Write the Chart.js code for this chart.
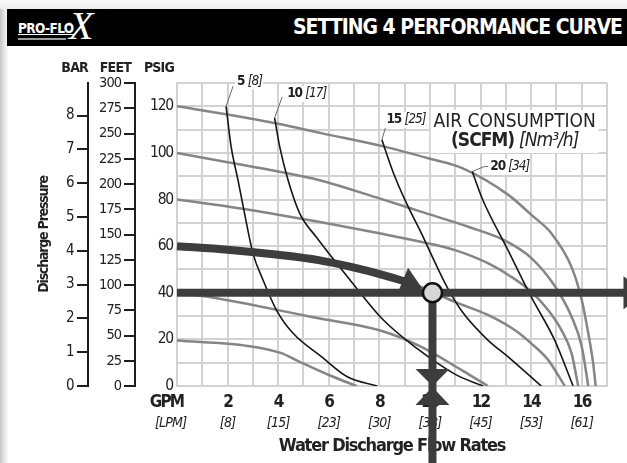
<!DOCTYPE html>
<html><head><meta charset="utf-8">
<script src="https://cdn.jsdelivr.net/npm/chart.js@4.4.1/dist/chart.umd.min.js"></script>
<style>
html,body{margin:0;padding:0;background:#fff;}
#wrap{position:relative;width:627px;height:463px;overflow:hidden;background:#fff;}
#chart{position:absolute;left:0;top:0;}
#shadow{position:absolute;left:0;top:0;width:10px;height:463px;background:linear-gradient(to right,#c4c4c4 0,#e4e4e4 4px,#fff 9px);}
#topband{position:absolute;left:0;top:0;width:627px;height:9px;background:linear-gradient(to bottom,#fafafa,#ececec);}
#header{position:absolute;left:7px;top:9px;width:620px;height:37px;background:#000;overflow:hidden;}
#title{position:absolute;right:5px;top:0;line-height:37px;color:#fff;font-weight:bold;font-size:21px;letter-spacing:-1px;font-family:'DejaVu Sans Condensed','DejaVu Sans',sans-serif;white-space:nowrap;}
#logo{position:absolute;left:11px;top:0;height:37px;width:80px;color:#fff;}
#logo .pf{position:absolute;left:0;top:13px;font-weight:bold;font-size:13.5px;font-family:'DejaVu Sans Condensed',sans-serif;letter-spacing:-0.6px;line-height:12px;border-bottom:1.5px solid #fff;}
#logo .tiny{position:absolute;left:0;top:29px;width:48px;height:2px;background:#9a9a9a;}
#logo .reg{position:absolute;left:49px;top:12px;font-size:5px;font-family:'DejaVu Sans',sans-serif;}
#logo .x{position:absolute;left:51px;top:-7px;font-style:italic;font-size:40px;font-weight:normal;font-family:'Liberation Serif',serif;line-height:48px;}
</style></head>
<body><div id="wrap">
<canvas id="chart" width="627" height="463"></canvas>
<div id="shadow"></div><div id="topband"></div>
<div id="header"><div id="logo"><span class="pf">PRO-FLO</span><span class="tiny"></span><span class="reg">®</span><span class="x">X</span></div><div id="title">SETTING 4 PERFORMANCE CURVE</div></div>
</div>
<script>
// ---------- DATA ----------
const flowTickValues = [2, 4, 6, 8, 10, 12, 14, 16];
const flowTickLpm = ['[8]', '[15]', '[23]', '[30]', '[38]', '[45]', '[53]', '[61]'];
const psiTickValues = [0, 20, 40, 60, 80, 100, 120];

// pump curves at air inlet pressure (flow GPM, discharge PSIG)
const air120Flow = [0, 2, 4, 5.7, 8.2, 10, 11.3, 13.1, 14, 14.8, 15.6, 16, 16.26, 16.45, 16.55];
const air120Psi  = [120, 116.5, 112.5, 108.5, 102.7, 97.5, 93.4, 82, 73.5, 65.5, 51, 37, 22.6, 10, 0];
const air100Flow = [0, 2, 4, 5.6, 8, 9.64, 11.6, 12.95, 14, 14.93, 15.6, 16.0, 16.26];
const air100Psi  = [100, 96, 92, 88.4, 80.5, 74.8, 68, 62.5, 55, 43, 29.7, 17, 0];
const air80Flow  = [0, 2, 4, 5.6, 8, 9.64, 10.96, 12.29, 13.21, 14, 14.67, 15.2, 15.6, 15.86];
const air80Psi   = [80, 77, 73.5, 70.5, 65.5, 61.9, 58.4, 52.7, 46.9, 40.5, 32.6, 24, 14, 0];
const air60Flow  = [0, 2, 4, 5.6, 6.84, 8.16, 9.48, 10.1, 10.96, 12.29, 13.35, 14, 14.67, 15.33];
const air60Psi   = [60, 58.5, 56.3, 54, 51.2, 47.6, 43.3, 40.3, 36.2, 30.5, 24, 18.3, 11.2, 0];
const air40Flow  = [0, 1.4, 2.8, 5.43, 8.07, 9.64, 11.3, 12.29];
const air40Psi   = [40, 38, 35.2, 29.4, 23.7, 16.9, 6.5, 0];
const air20Flow  = [0, 2.8, 4.1, 4.77, 6.1, 7.1];
const air20Psi   = [19.5, 17.2, 14.2, 10.8, 4.3, 0];

// air consumption curves (SCFM)
const scfm5Flow  = [1.94, 2.14, 2.41, 2.67, 3.0, 3.4, 3.93, 4.59, 5.71, 6.73, 7.92];
const scfm5Psi   = [120, 102.7, 88.4, 74.1, 57, 45.5, 32.6, 22.6, 12.6, 4, 0];
const scfm10Flow = [3.86, 4.06, 4.39, 4.85, 5.5, 6.84, 8.16, 9.5, 11.0, 12.1];
const scfm10Psi  = [115, 102.7, 88.4, 74.1, 64, 45.5, 28.3, 16, 5, 0];
const scfm15Flow = [8.1, 8.56, 9.09, 9.64, 10.2, 10.7, 11.3, 12.29, 13.08, 14.4];
const scfm15Psi  = [105.6, 91.3, 78, 66, 53, 42, 31.5, 19.7, 12.6, 0];
const scfm20Flow = [11.67, 12.09, 13.08, 14.0, 14.93, 15.66];
const scfm20Psi  = [92, 79.8, 58.4, 38.3, 19.7, 0];
const scfmNames  = ['5', '10', '15', '20'];
const scfmNm3    = ['[8]', '[17]', '[25]', '[34]'];

// operating point example
const opFlow = 10.1;
const opPsi = 40;
const arrowFlow = [0, 2, 4, 5.6, 6.84, 8.16, 9.0];
const arrowPsi  = [60, 58.5, 56.3, 54, 51.2, 47.6, 44.9];
const horizArrowFlow = [0, 18.6];
const vertArrowPsi = [40, -40];

// unit conversions for secondary axes
const FEET_MAX = 300;
const PSI_PER_BAR = 14.5038;

// ---------- STYLE / LAYOUT ----------
const F = "'DejaVu Sans Condensed','DejaVu Sans',sans-serif";
const TXT = '#222222';
const GRID = '#d2d2d2';
const AXIS = '#1e1e1e';
const BAND = '#3d3d3d';
const labelLayout = [ // leader end offset (dx,dy), text offset (tx,ty) in px
  {dx: 7, dy: -20, tx: 11, ty: -25},
  {dx: 7.5, dy: -21, tx: 12.5, ty: -24},
  {dx: 3.5, dy: -12, tx: 4.5, ty: -20},
  {dx: 12, dy: -5, tx: 18, ty: -5}
];
const scaleSpacing = {x: '-1.8px', x2: '-0.8px', y: '-1.2px', feet: '-1px', bar: '-0.5px'};
const titleSpacing = {x2: '-1.2px', bar: '-1.2px'};

const pts = (xs, ys) => xs.map((x, i) => ({x, y: ys[i]}));
const grayCurve = (xs, ys) => ({data: pts(xs, ys), borderColor: '#858585', borderWidth: 2.5, pointRadius: 0, cubicInterpolationMode: 'monotone', order: 4, xAxisID: 'x', yAxisID: 'y'});
const blackCurve = (xs, ys) => ({data: pts(xs, ys), borderColor: '#161616', borderWidth: 1.6, pointRadius: 0, cubicInterpolationMode: 'monotone', order: 3, xAxisID: 'x', yAxisID: 'y'});

const scfmCurves = [[scfm5Flow, scfm5Psi], [scfm10Flow, scfm10Psi], [scfm15Flow, scfm15Psi], [scfm20Flow, scfm20Psi]];

const datasets = [
  grayCurve(air120Flow, air120Psi),
  grayCurve(air100Flow, air100Psi),
  grayCurve(air80Flow, air80Psi),
  grayCurve(air60Flow, air60Psi),
  grayCurve(air40Flow, air40Psi),
  grayCurve(air20Flow, air20Psi),
  ...scfmCurves.map(c => blackCurve(c[0], c[1])),
  {data: pts(arrowFlow, arrowPsi), borderColor: BAND, borderWidth: 8, pointRadius: 0, cubicInterpolationMode: 'monotone', borderCapStyle: 'butt', order: 2, clip: false, xAxisID: 'x', yAxisID: 'y'},
  {data: pts(horizArrowFlow, [opPsi, opPsi]), borderColor: BAND, borderWidth: 8, pointRadius: 0, order: 2, clip: false, xAxisID: 'x', yAxisID: 'y'},
  {data: pts([opFlow, opFlow], vertArrowPsi), borderColor: BAND, borderWidth: 8, pointRadius: 0, order: 1, clip: false, xAxisID: 'x', yAxisID: 'y'},
  {data: [{x: opFlow, y: opPsi}], showLine: false, pointRadius: 9.5, pointBorderWidth: 2.5, pointBackgroundColor: '#d6d6d6', pointBorderColor: '#111', order: 0, clip: false, xAxisID: 'x', yAxisID: 'y'}
];

function tri(ctx, tip, dir, len, half) {
  const bx = tip.x - dir.x * len, by = tip.y - dir.y * len;
  const nx = -dir.y, ny = dir.x;
  ctx.beginPath();
  ctx.moveTo(tip.x, tip.y);
  ctx.lineTo(bx + nx * half, by + ny * half);
  ctx.lineTo(bx - nx * half, by - ny * half);
  ctx.closePath();
  ctx.fill();
}
function mixed(ctx, parts, x, y) {
  let cx = x;
  for (const p of parts) { ctx.font = p.font; ctx.fillText(p.text, cx, y); cx += ctx.measureText(p.text).width; }
  return cx - x;
}
function mixedWidth(ctx, parts) {
  let w = 0;
  for (const p of parts) { ctx.font = p.font; w += ctx.measureText(p.text).width; }
  return w;
}

const spacingPlugin = {
  id: 'spacing',
  beforeDraw(chart) {
    for (const id in chart.scales) {
      const s = chart.scales[id];
      if (s.__sp) continue;
      s.__sp = true;
      const dl = s.drawLabels, dt = s.drawTitle;
      s.drawLabels = function (a) { const c = this.ctx; const p = c.letterSpacing; c.letterSpacing = scaleSpacing[id] || '0px'; dl.call(this, a); c.letterSpacing = p || '0px'; };
      s.drawTitle = function () { const c = this.ctx; const p = c.letterSpacing; c.letterSpacing = titleSpacing[id] || '0px'; dt.call(this); c.letterSpacing = p || '0px'; };
    }
  }
};

const annot = {
  id: 'annot',
  beforeDatasetsDraw(chart) {
    const {ctx, scales: {x, y}} = chart;
    ctx.save();
    ctx.textBaseline = 'middle'; ctx.textAlign = 'left';
    ctx.letterSpacing = '-1px';
    scfmCurves.forEach((c, i) => {
      const L = labelLayout[i];
      const sx = x.getPixelForValue(c[0][0]), sy = y.getPixelForValue(c[1][0]);
      const parts = [{text: scfmNames[i] + ' ', font: `bold 13.5px ${F}`}, {text: scfmNm3[i], font: `italic 13.5px ${F}`}];
      const w = mixedWidth(ctx, parts);
      ctx.fillStyle = '#fff';
      ctx.fillRect(sx + L.tx - 2, sy + L.ty - 8, w + 3, 16);
      ctx.strokeStyle = '#6a6a6a'; ctx.lineWidth = 1;
      ctx.beginPath(); ctx.moveTo(sx, sy); ctx.lineTo(sx + L.dx, sy + L.dy);
      if (i === 3) ctx.lineTo(sx + L.tx - 2, sy + L.dy);
      ctx.stroke();
      ctx.fillStyle = TXT;
      mixed(ctx, parts, sx + L.tx, sy + L.ty);
    });
    const cx = x.getPixelForValue(13.35);
    const y1 = y.getPixelForValue(113.3), y2 = y.getPixelForValue(105.2);
    ctx.fillStyle = '#fff';
    ctx.fillRect(cx - 84, y1 - 12, 168, 43);
    ctx.fillStyle = TXT;
    ctx.letterSpacing = '0px';
    ctx.font = `19px ${F}`;
    ctx.textAlign = 'center';
    ctx.fillText('AIR CONSUMPTION', cx, y1);
    ctx.textAlign = 'left';
    ctx.letterSpacing = '-1px';
    const p2 = [{text: '(SCFM) ', font: `bold 19px ${F}`}, {text: '[Nm³/h]', font: `italic 19px ${F}`}];
    const w2 = mixedWidth(ctx, p2);
    mixed(ctx, p2, cx - w2 / 2, y2);
    ctx.restore();
  },
  afterDatasetsDraw(chart) {
    const {ctx, scales: {x, y}} = chart;
    ctx.save();
    ctx.fillStyle = BAND;
    const cxp = x.getPixelForValue(opFlow), cyp = y.getPixelForValue(opPsi);
    const ex = x.getPixelForValue(arrowFlow[arrowFlow.length - 1]), ey = y.getPixelForValue(arrowPsi[arrowPsi.length - 1]);
    let dx = cxp - ex, dy = cyp - ey; const d = Math.hypot(dx, dy); dx /= d; dy /= d;
    const tip = {x: cxp - dx * 11, y: cyp - dy * 11};
    tri(ctx, tip, {x: dx, y: dy}, Math.hypot(tip.x - ex, tip.y - ey) + 2, 14);
    const by = y.getPixelForValue(0);
    tri(ctx, {x: cxp, y: by}, {x: 0, y: 1}, 17, 17);
    tri(ctx, {x: cxp, y: by + 1}, {x: 0, y: -1}, 18, 17);
    const rx = x.getPixelForValue(horizArrowFlow[1]);
    tri(ctx, {x: rx, y: cyp}, {x: 1, y: 0}, 24, 16.5);
    ctx.restore();
  },
  afterDraw(chart) {
    const {ctx, chartArea, scales} = chart;
    ctx.save();
    ctx.letterSpacing = '-0.8px';
    ctx.font = `bold 14px ${F}`; ctx.fillStyle = TXT; ctx.textAlign = 'right'; ctx.textBaseline = 'middle';
    const yh = chartArea.top - 15;
    ctx.fillText('BAR', scales.bar.right, yh);
    ctx.fillText('FEET', scales.feet.right - 4, yh);
    ctx.fillText('PSIG', scales.y.right - 3, yh);
    ctx.restore();
  }
};

new Chart(document.getElementById('chart'), {
  type: 'line',
  data: {datasets},
  options: {
    responsive: false, animation: false, events: [], devicePixelRatio: 1,
    layout: {padding: {left: 31, top: 83, right: 20, bottom: 0}},
    plugins: {legend: {display: false}, tooltip: {enabled: false}},
    scales: {
      x: {type: 'linear', position: 'bottom', min: 0, max: 17, weight: 0,
        ticks: {stepSize: 1, autoSkip: false, maxRotation: 0, includeBounds: false, padding: 8, color: TXT,
          font: {family: F, size: 17, weight: 'bold', lineHeight: 1},
          callback: v => v === 0 ? 'GPM      ' : (flowTickValues.includes(v) ? String(v) : '')},
        grid: {color: GRID, lineWidth: 2, drawTicks: false},
        border: {display: true, color: GRID, width: 2},
        afterFit: s => { s.height = 25; }},
      x2: {type: 'linear', position: 'bottom', min: 0, max: 17, weight: 1,
        ticks: {stepSize: 1, autoSkip: false, maxRotation: 0, includeBounds: false, padding: -3, color: TXT,
          font: {family: F, size: 14, style: 'italic', lineHeight: 1},
          callback: v => v === 0 ? '[LPM]    ' : (flowTickValues.includes(v) ? flowTickLpm[flowTickValues.indexOf(v)] : '')},
        grid: {display: false}, border: {display: false},
        title: {display: true, text: 'Water Discharge Flow Rates', color: TXT, font: {family: F, size: 18, weight: 'bold', lineHeight: 1.2}, padding: {top: 0, bottom: 6}},
        afterFit: s => { s.height = 52; }},
      y: {type: 'linear', position: 'left', min: 0, max: 130, weight: 0,
        ticks: {stepSize: 10, includeBounds: false, padding: 4, color: TXT, font: {family: F, size: 15.5, lineHeight: 1},
          callback: v => psiTickValues.includes(v) ? String(v) : ''},
        grid: {color: GRID, lineWidth: 2, drawTicks: false},
        border: {display: true, color: GRID, width: 2},
        afterFit: s => { s.width = 42; }},
      feet: {type: 'linear', position: 'left', min: 0, max: FEET_MAX, weight: 1,
        ticks: {stepSize: 25, includeBounds: false, padding: 3, color: TXT, font: {family: F, size: 14.5, lineHeight: 1}},
        grid: {drawOnChartArea: false, drawTicks: true, tickLength: 11, color: AXIS, lineWidth: 2},
        border: {display: true, color: AXIS, width: 2},
        afterFit: s => { s.width = 47; }},
      bar: {type: 'linear', position: 'left', min: 0, max: 130 / PSI_PER_BAR, weight: 2,
        ticks: {stepSize: 1, includeBounds: false, padding: 3, color: TXT, font: {family: F, size: 15, lineHeight: 1}},
        grid: {drawOnChartArea: false, drawTicks: true, tickLength: 11, color: AXIS, lineWidth: 2},
        border: {display: true, color: AXIS, width: 2},
        title: {display: true, text: 'Discharge Pressure', color: TXT, font: {family: F, size: 14, weight: 'bold', lineHeight: 1.2}, padding: {top: 5, bottom: 0}},
        afterFit: s => { s.width = 57; }}
    }
  },
  plugins: [spacingPlugin, annot]
});
</script>
</body></html>
